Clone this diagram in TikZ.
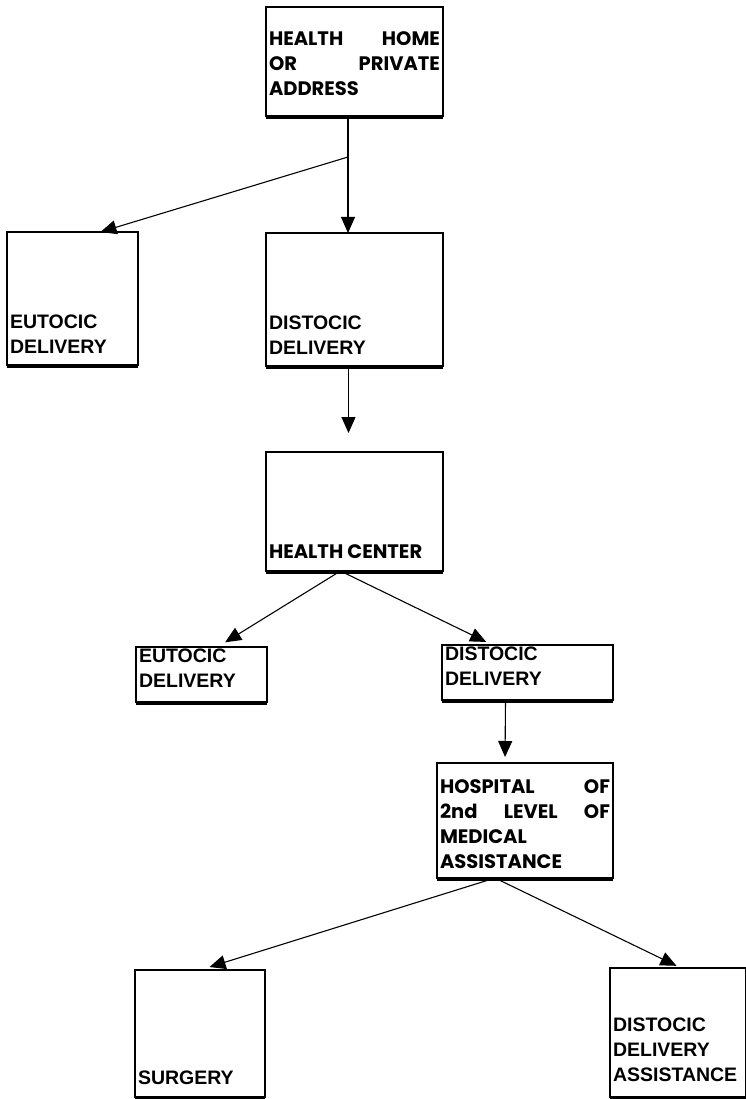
\documentclass[tikz,border=0pt]{standalone}
\usepackage{fontspec}
\usepackage{tikz}
\usetikzlibrary{arrows.meta,positioning,calc}
\newfontfamily\gothic{Poppins}
\newfontfamily\arialb{Liberation Sans}
\newcommand{\cell}[4][9pt]{\parbox[c][#3][b]{#2}{#4\par\vspace{#1}}}

\begin{document}
\begin{tikzpicture}[x=1pt,y=-1pt,
  box/.style={rectangle,draw=black,line width=1.1pt,anchor=north west,
    inner sep=3pt,outer sep=0pt,font=\bfseries\fontsize{19.5}{25}\selectfont},
  arr/.style={-{Triangle[length=16pt,width=14pt]},line width=1.1pt},
  ln/.style={line width=1.1pt},
]
  \useasboundingbox (0,0) rectangle (745,1099);
  % level 1
  \node[box] (home) at (266,7) {\cell[17pt]{171pt}{103pt}{\gothic HEALTH\hfill HOME\\OR\hfill PRIVATE\\ADDRESS}};
  \node[box] (eut1) at (7,232) {\cell{125pt}{127pt}{\arialb EUTOCIC\\DELIVERY}};
  \node[box] (dis1) at (266,233) {\cell{171pt}{127pt}{\arialb DISTOCIC\\DELIVERY}};
  % level 2
  \node[box] (hc) at (266,452) {\cell{171pt}{113pt}{\gothic HEALTH CENTER}};
  \node[box] (eut2) at (136,647) {\cell[12pt]{125pt}{49pt}{\arialb EUTOCIC\\DELIVERY}};
  \node[box] (dis2) at (442,645) {\cell[12pt]{165pt}{49pt}{\arialb DISTOCIC\\DELIVERY}};
  % level 3
  \node[box] (hosp) at (437,763) {\cell[6pt]{170pt}{109pt}{\gothic HOSPITAL\hfill OF\\2nd\hfill LEVEL\hfill OF\\MEDICAL\\ASSISTANCE}};
  \node[box] (surg) at (135,970) {\cell{124pt}{121pt}{\arialb SURGERY}};
  \node[box] (dda) at (610,968) {\cell[12pt]{130pt}{123pt}{\arialb DISTOCIC\\DELIVERY\\ASSISTANCE}};
  % heavy lower edges
  \foreach \b in {home,eut1,dis1,hc,eut2,dis2,hosp,surg,dda}
    \draw[line width=3.6pt] ([yshift=-1.2pt]\b.south west) -- ([yshift=-1.2pt]\b.south east);
  % connectors
  \coordinate (j1) at (348,157);
  \draw[ln] (home.south -| j1) -- (j1);
  \draw[arr] (j1) -- (dis1.north -| j1);
  \draw[arr] (j1) -- ([xshift=28pt]eut1.north);
  \draw[arr,shorten >=19pt] ([xshift=-6pt]dis1.south) -- ([xshift=-6pt]hc.north);
  \draw[arr,shorten >=9pt] ([xshift=-14pt]hc.south) -- ([xshift=16pt]eut2.north);
  \draw[arr,shorten >=7pt] ([xshift=-14pt]hc.south) -- ([xshift=-35pt]dis2.north);
  \draw[arr,shorten >=6pt] ([xshift=-22pt]dis2.south) -- ([xshift=-20pt]hosp.north);
  \draw[arr,shorten >=10pt] ([xshift=-30pt]hosp.south) -- (surg.north);
  \draw[arr,shorten >=5pt] ([xshift=-30pt]hosp.south) -- ([xshift=3pt]dda.north);
\end{tikzpicture}
\end{document}
